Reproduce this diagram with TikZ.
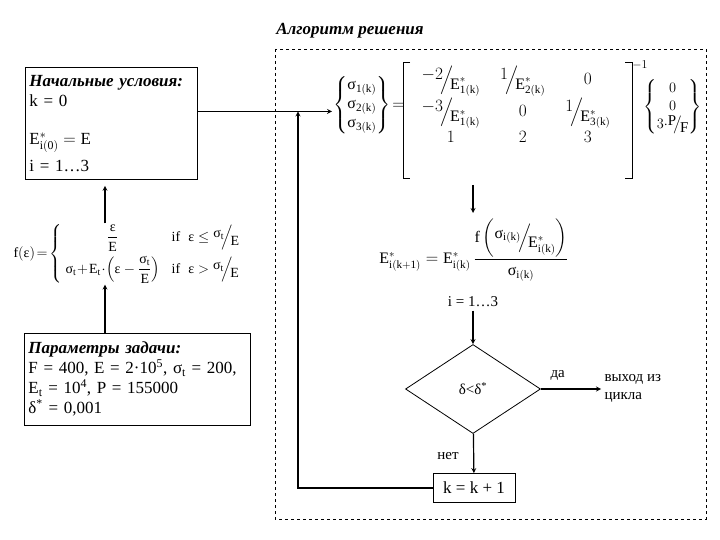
\documentclass[tikz,border=0pt]{standalone}
\usepackage{amsmath}
\usepackage{amssymb}
\usepackage{fontspec}
\setmainfont{Liberation Serif}
\usetikzlibrary{shapes.geometric,positioning}

\newcommand{\sg}{\text{σ}}
\newcommand{\ep}{\text{ε}}
\newcommand{\slfrac}[2]{\raisebox{0.6ex}{$#1$}\!\Big/\!\raisebox{-0.7ex}{$#2$}}
\newcommand{\slfracs}[2]{\raisebox{0.5ex}{$#1$}\!\big/\!\raisebox{-0.5ex}{$#2$}}

\begin{document}
\begin{tikzpicture}[x=1pt, y=-1pt, >=stealth,
    box/.style={draw, line width=0.8pt, anchor=north west, align=left, inner sep=4pt},
    conn/.style={line width=1.2pt},
    txt/.style={font=\fontsize{17}{20}\selectfont},
    eqn/.style={font=\fontsize{16}{19}\selectfont, inner sep=1pt},
    lbl/.style={font=\fontsize{15}{18}\selectfont}]
  \useasboundingbox (0,0) rectangle (720,540);

  \node[font=\bfseries\itshape\fontsize{17}{20}\selectfont] (ttl) at (350,31) {Алгоритм решения};
  \draw[dashed, line width=0.7pt] (275,49) rectangle (706,519);

  \coordinate (ax) at (105,0);
  \coordinate (cx) at (473,0);
  \coordinate (lx) at (298,0);

  \node[box, txt, text width=164pt, minimum height=112pt] (ini) at (25,67)
    {{\bfseries\itshape Начальные условия:}\\ k = 0\\[18pt] $\mathrm{E^{*}_{i(0)}=E}$\\[7pt] i = 1…3};

  \node[box, txt, text width=218pt, minimum height=92pt] (par) at (24,333)
    {{\bfseries\itshape Параметры задачи:}\\ F = 400, E = 2·10\textsuperscript{5}, σ\textsubscript{t} = 200,\\
     E\textsubscript{t} = 10\textsuperscript{4}, P = 155000\\ δ\textsuperscript{*} = 0,001};

  \node[eqn, font=\fontsize{14}{17}\selectfont] (fe) at (127,254)
    {$\mathrm{f}(\ep)\!=\!\left\{\;\begin{array}{@{}c@{\;\;\;}l@{\;\;}l@{}}
      \dfrac{\ep}{\mathrm{E}} & \text{if} & \ep\le\slfrac{\sg_\mathrm{t}}{\mathrm{E}}\\[10pt]
      \sg_\mathrm{t}\!+\!\mathrm{E_t}\!\cdot\!\left(\ep-\dfrac{\sg_\mathrm{t}}{\mathrm{E}}\right) & \text{if} & \ep>\slfrac{\sg_\mathrm{t}}{\mathrm{E}}
    \end{array}\right.$};

  % matrix equation
  \node[eqn, anchor=west] (sv) at (332,105)
    {$\left\{\begin{matrix}\sg_{\mathrm{1(k)}}\\ \sg_{\mathrm{2(k)}}\\ \sg_{\mathrm{3(k)}}\end{matrix}\right\}\!=$};
  \node[eqn] (mx) at (516,106)
    {$\begin{array}{@{}c@{\hspace{20pt}}c@{\hspace{20pt}}c@{}}
      \slfrac{-2}{\mathrm{E^*_{1(k)}}} & \slfrac{1}{\mathrm{E^*_{2(k)}}} & 0\\[2pt]
      \slfrac{-3}{\mathrm{E^*_{1(k)}}} & 0 & \slfrac{1}{\mathrm{E^*_{3(k)}}}\\
      1 & 2 & 3
    \end{array}$};
  \draw[line width=0.8pt] (410,62) -- (403,62) -- (403,178) -- (410,178);
  \draw[line width=0.8pt] (625,62) -- (632,62) -- (632,178) -- (625,178);
  \node[eqn, font=\fontsize{13}{15}\selectfont] (inv) at (640,65) {$-1$};
  \node[eqn, font=\fontsize{15}{18}\selectfont, anchor=east] (rv) at (703,107)
    {$\left\{\begin{matrix}0\\ 0\\ 3{\cdot}\slfracs{\mathrm{P}}{\mathrm{F}}\end{matrix}\right\}$};

  \node[eqn] (upd) at (474,250)
    {$\mathrm{E^*_{i(k+1)}}=\mathrm{E^*_{i(k)}}\,\dfrac{\mathrm{f}\left(\slfrac{\sg_{\mathrm{i(k)}}}{\mathrm{E^*_{i(k)}}}\right)}{\sg_{\mathrm{i(k)}}}$};
  \node[lbl] (ir) at (473,302) {i = 1…3};

  \node[draw, diamond, line width=0.8pt, inner sep=0pt, minimum width=135pt, minimum height=89pt, lbl] (dia) at (473,389) {δ<δ\textsuperscript{*}};
  \node[lbl, anchor=south west] (yes) at (547,384) {да};
  \node[lbl, anchor=west, align=left] (ex) at (601,388) {выход из\\ цикла};
  \node[lbl] (no) at (448,456) {нет};
  \node[draw, line width=0.8pt, txt, minimum width=82pt, minimum height=29pt] (kk) at (474,488) {k = k + 1};

  \coordinate (ji) at ([yshift=12pt]ini.east);
  \coordinate (mxb) at (473,185);
  \coordinate (upt) at (473,213);
  \draw[conn,->] (ji) -- (ji -| sv.west);
  \draw[conn,->] (kk.west) -| (ji -| lx);
  \draw[conn,->] (par.north -| ax) -- (fe.south -| ax);
  \draw[conn,->, shorten >=6pt] (fe.north -| ax) -- (ini.south -| ax);
  \draw[conn,->] (mxb) -- (upt);
  \draw[conn,->] (ir) -- (dia);
  \draw[conn,->] (dia.east) -- (dia.east -| ex.west);
  \draw[conn,->] (dia) -- (kk);
\end{tikzpicture}
\end{document}
